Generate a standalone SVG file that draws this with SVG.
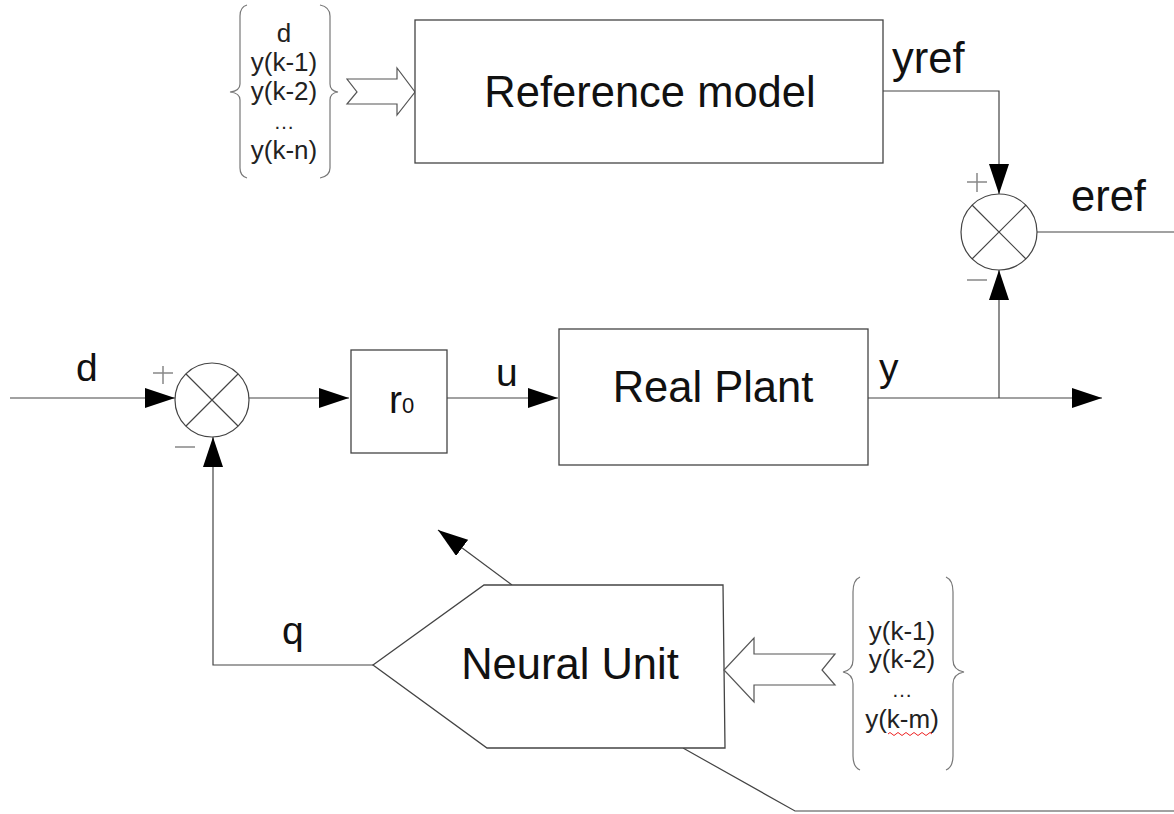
<svg xmlns="http://www.w3.org/2000/svg" width="1174" height="814" viewBox="0 0 1174 814">
<style>
.ln{fill:none;stroke:#444;stroke-width:1.2}
.bx{fill:#fff;stroke:#444;stroke-width:1.3}
.br{fill:none;stroke:#777;stroke-width:1.2}
.big{font-family:"Liberation Sans",Arial,sans-serif;font-size:43.5px;fill:#111}
.lab{font-family:"Liberation Sans",Arial,sans-serif;font-size:39px;fill:#111}
.sm{font-family:"Liberation Sans",Arial,sans-serif;font-size:26px;fill:#222;text-anchor:middle}
.el{font-family:"Liberation Sans",Arial,sans-serif;font-size:21px;fill:#222;text-anchor:middle}
.sg{fill:none;stroke:#888;stroke-width:1.5}
.hol{fill:#fff;stroke:#555;stroke-width:1.2}
</style>
<defs>
<marker id="ah" viewBox="0 0 30 20" refX="30" refY="10" markerWidth="30" markerHeight="20" markerUnits="userSpaceOnUse" orient="auto">
<path d="M0,0 L30,10 L0,20 z" fill="#000"/>
</marker>
</defs>
<rect width="1174" height="814" fill="#fff"/>

<g id="connectors">
<path class="ln" d="M10,398 H175" marker-end="url(#ah)"/>
<path class="ln" d="M249,398 H349" marker-end="url(#ah)"/>
<path class="ln" d="M447,398 H558" marker-end="url(#ah)"/>
<path class="ln" d="M868,398 H1102" marker-end="url(#ah)"/>
<path class="ln" d="M999,398 V270" marker-end="url(#ah)"/>
<path class="ln" d="M883,91 H999 V194" marker-end="url(#ah)"/>
<path class="ln" d="M1037,232 H1174"/>
<path class="ln" d="M373,665 H213 V437" marker-end="url(#ah)"/>
<path class="ln" d="M512,585 L438,530" marker-end="url(#ah)"/>
<path class="ln" d="M683,748 L795,811 H1174"/>
</g>

<g id="inputs-top">
<path class="br" d="M247,5 Q240,7 240,16 V84 Q240,91 230,92 Q240,93 240,100 V168 Q240,176 247,178"/>
<path class="br" d="M320,5 Q330,7 330,16 V84 Q330,91 338,92 Q330,93 330,100 V168 Q330,176 320,178"/>
<text class="sm" x="284" y="42">d</text>
<text class="sm" x="284" y="71">y(k-1)</text>
<text class="sm" x="284" y="100">y(k-2)</text>
<text class="el" x="284" y="129">…</text>
<text class="sm" x="284" y="159">y(k-n)</text>
<path class="hol" d="M347,79 H397 V68 L415,92 L397,115 V104 H347 L357,92 z"/>
</g>

<g id="reference-model">
<rect class="bx" x="415" y="20" width="468" height="143"/>
<text class="big" x="650" y="107" text-anchor="middle">Reference model</text>
</g>
<text class="big" x="892" y="73">yref</text>

<g id="sum-eref">
<circle cx="999" cy="232" r="38" fill="#fff" stroke="#444" stroke-width="1.2"/>
<path class="ln" d="M972,205 L1026,259 M1026,205 L972,259"/>
<path class="sg" d="M967,182 H987 M977,173 V192 M967,280 H987"/>
</g>
<text class="big" x="1071" y="211">eref</text>

<text class="lab" x="76" y="381">d</text>
<g id="sum-main">
<circle cx="212" cy="400" r="37" fill="#fff" stroke="#444" stroke-width="1.2"/>
<path class="ln" d="M186,374 L238,426 M238,374 L186,426"/>
<path class="sg" d="M153,373 H173 M163,366 V384 M175,447 H195"/>
</g>

<g id="r0">
<rect class="bx" x="351" y="350" width="96" height="103"/>
<text x="389" y="413" font-family="Liberation Sans,Arial,sans-serif" fill="#111"><tspan font-size="39">r</tspan><tspan font-size="22">0</tspan></text>
</g>
<text class="lab" x="496" y="386">u</text>

<g id="real-plant">
<rect class="bx" x="559" y="329" width="309" height="136"/>
<text class="big" x="713" y="402" text-anchor="middle">Real Plant</text>
</g>
<text class="lab" x="879" y="381">y</text>

<g id="neural-unit">
<path class="bx" d="M373,665 L484,585 H723 L725,748 H487 z"/>
<text class="big" x="570" y="679" text-anchor="middle">Neural Unit</text>
</g>
<text class="lab" x="282" y="644">q</text>

<g id="inputs-bottom">
<path class="hol" d="M835,654 H754 V638 L724,670 L754,702 V685 H835 L822,670 z"/>
<path class="br" d="M860,577 Q853,580 853,592 V660 Q853,670 843,672 Q853,674 853,684 V756 Q853,767 860,770"/>
<path class="br" d="M946,577 Q953,580 953,592 V660 Q953,670 964,672 Q953,674 953,684 V756 Q953,767 946,770"/>
<text class="sm" x="902" y="640">y(k-1)</text>
<text class="sm" x="902" y="668">y(k-2)</text>
<text class="el" x="902" y="697">…</text>
<text class="sm" x="902" y="728">y(k-m)</text>
<path d="M888,734 q2,-3 4,0 t4,0 t4,0 t4,0 t4,0 t4,0 t4,0 t4,0 t4,0 t4,0 t4,0" fill="none" stroke="#e22" stroke-width="1"/>
</g>
</svg>
